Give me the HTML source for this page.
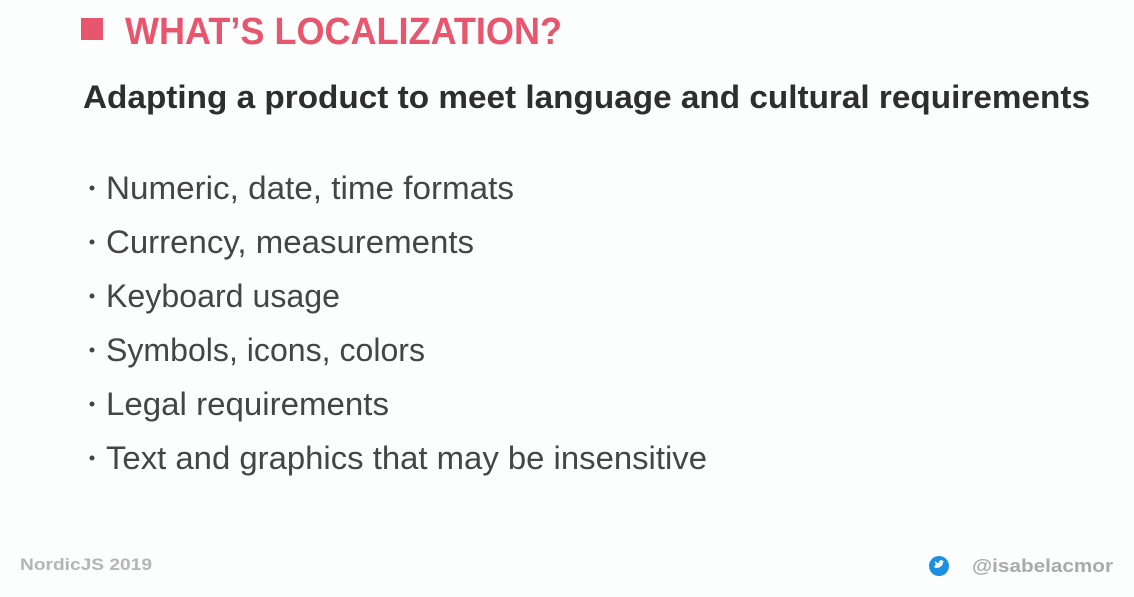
<!DOCTYPE html>
<html><head><meta charset="utf-8"><style>
html,body{margin:0;padding:0;background:#fcfdfd;}
svg{display:block;}
</style></head><body>
<svg width="1134" height="597" viewBox="0 0 1134 597" font-family="Liberation Sans, sans-serif">
<rect x="0" y="0" width="1134" height="597" fill="#fcfdfd"/>
<rect x="81" y="18" width="22" height="22" fill="#e8566e"/>
<text x="125" y="44" font-size="38" font-weight="bold" fill="#e8566e" textLength="437" lengthAdjust="spacingAndGlyphs">WHAT’S LOCALIZATION?</text>
<text x="83" y="108" font-size="32" font-weight="bold" fill="#2e2e2e" textLength="1007" lengthAdjust="spacingAndGlyphs">Adapting a product to meet language and cultural requirements</text>
<g fill="#454545" font-size="32">
<circle cx="92" cy="188" r="2.5"/>
<text x="106" y="199" textLength="408" lengthAdjust="spacingAndGlyphs">Numeric, date, time formats</text>
<circle cx="92" cy="242" r="2.5"/>
<text x="106" y="253" textLength="368" lengthAdjust="spacingAndGlyphs">Currency, measurements</text>
<circle cx="92" cy="296" r="2.5"/>
<text x="106" y="307" textLength="234" lengthAdjust="spacingAndGlyphs">Keyboard usage</text>
<circle cx="92" cy="350" r="2.5"/>
<text x="106" y="361" textLength="319" lengthAdjust="spacingAndGlyphs">Symbols, icons, colors</text>
<circle cx="92" cy="404" r="2.5"/>
<text x="106" y="415" textLength="283" lengthAdjust="spacingAndGlyphs">Legal requirements</text>
<circle cx="92" cy="458" r="2.5"/>
<text x="106" y="469" textLength="601" lengthAdjust="spacingAndGlyphs">Text and graphics that may be insensitive</text>
</g>
<text x="20" y="570" font-size="17" font-weight="bold" fill="#b5b5b5" textLength="132" lengthAdjust="spacingAndGlyphs">NordicJS 2019</text>
<circle cx="939" cy="566" r="10" fill="#1d8fe0"/>
<path d="M934 567 q3 2 6 0 q3 -2 3 -5 l1.5 -1 -1.5 0 q-1 -1.5 -3 -0.5 q-1.5 1 -1 2.5 q-2.5 0 -4 -2 q-0.5 2 1 3 z" fill="#fff"/>
<text x="972" y="572" font-size="18" font-weight="bold" fill="#aaaaaa" textLength="141" lengthAdjust="spacingAndGlyphs">@isabelacmor</text>
</svg>
</body></html>
